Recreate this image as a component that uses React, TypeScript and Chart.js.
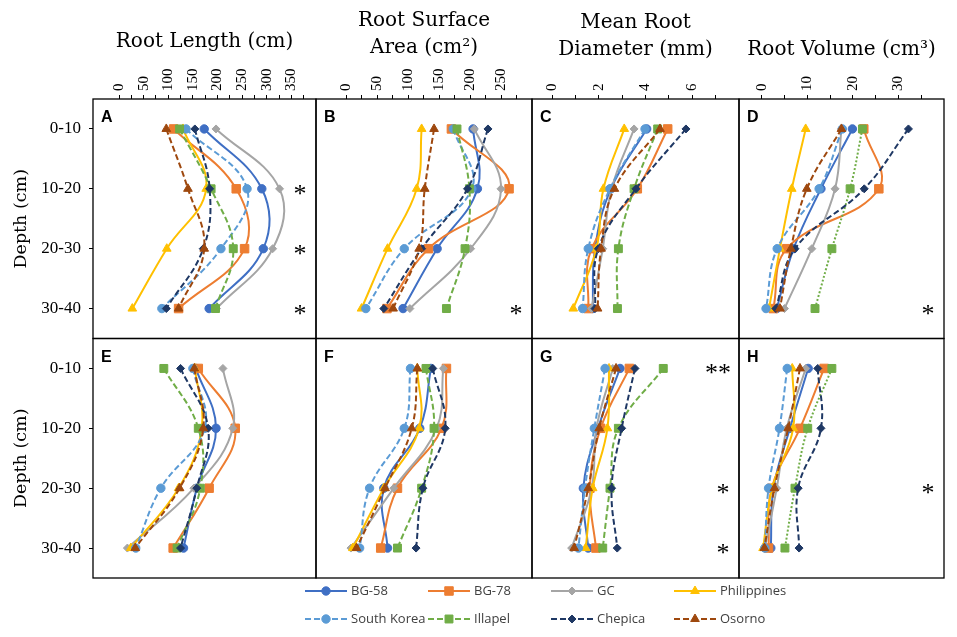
import React, { useEffect, useRef } from 'react';
import { Chart, registerables } from 'chart.js';
import { drawPoint } from 'chart.js/helpers';

Chart.register(...registerables);

// ---------- data ----------
const depthLabels = ['0-10', '10-20', '20-30', '30-40'];
const seriesNames = ['BG-58', 'BG-78', 'GC', 'Philippines', 'South Korea', 'Illapel', 'Chepica', 'Osorno'];
const panelLetters = ['A', 'B', 'C', 'D', 'E', 'F', 'G', 'H'];
const columnTitles: string[][] = [
  ['Root Length (cm)'],
  ['Root Surface', 'Area (cm²)'],
  ['Mean Root', 'Diameter (mm)'],
  ['Root Volume (cm³)'],
];
const yAxisTitle = 'Depth (cm)';

const lengthTickLabels = [0, 50, 100, 150, 200, 250, 300, 350];
const surfaceTickLabels = [0, 50, 100, 150, 200, 250];
const diameterTickLabels = [0, 2, 4, 6];
const volumeTickLabels = [0, 10, 20, 30];
const lengthTickMarks = [0, 25, 50, 75, 100, 125, 150, 175, 200, 225, 250, 275, 300, 325, 350, 375];
const surfaceTickMarks = [0, 25, 50, 75, 100, 125, 150, 175, 200, 225, 250, 275];
const diameterTickMarks = [0, 1, 2, 3, 4, 5, 6, 7];
const volumeTickMarks = [0, 5, 10, 15, 20, 25, 30, 35];

// series order: BG-58, BG-78, GC, Philippines, South Korea, Illapel, Chepica, Osorno
const panelA = [
  [173, 290, 293, 183],
  [111, 238, 255, 121],
  [197, 326, 312, 198],
  [130, 177, 97, 27],
  [136, 260, 207, 87],
  [123, 187, 232, 196],
  [154, 184, 171, 96],
  [96, 140, 173, 121],
];
const panelB = [
  [205, 212, 147, 92],
  [170, 263, 133, 66],
  [207, 250, 201, 103],
  [122, 114, 67, 25],
  [173, 203, 94, 32],
  [179, 199, 192, 162],
  [229, 196, 122, 61],
  [142, 127, 118, 76],
];
const panelC = [
  [4.05, 2.52, 1.84, 1.74],
  [4.95, 3.65, 1.69, 1.55],
  [3.51, 2.55, 2.17, 1.69],
  [3.09, 2.2, 1.9, 0.91],
  [3.98, 2.48, 1.55, 1.31],
  [4.52, 3.51, 2.84, 2.8],
  [5.73, 3.59, 1.98, 1.84],
  [4.62, 2.67, 2.1, 1.95],
];
const panelD = [
  [19.9, 13.0, 7.0, 3.3],
  [22.4, 25.7, 5.5, 2.55],
  [17.5, 16.1, 11.0, 5.0],
  [9.65, 6.6, 4.0, 1.6],
  [17.7, 12.6, 3.4, 0.95],
  [22.1, 19.4, 15.4, 11.7],
  [32.2, 22.5, 7.3, 3.1],
  [17.5, 9.9, 6.4, 4.0],
];
const panelE = [
  [156, 197, 158, 131],
  [161, 236, 183, 110],
  [211, 231, 152, 17],
  [154, 168, 121, 24],
  [150, 174, 85, 34],
  [91, 161, 165, 118],
  [125, 181, 158, 125],
  [153, 171, 123, 33],
];
const panelF = [
  [137, 119, 61, 67],
  [162, 154, 83, 56],
  [157, 146, 77, 8],
  [115, 118, 61, 11],
  [104, 94, 38, 22],
  [129, 142, 122, 83],
  [140, 160, 124, 113],
  [115, 106, 63, 17],
];
const panelG = [
  [2.91, 1.97, 1.34, 1.55],
  [3.31, 2.08, 1.62, 1.88],
  [2.6, 1.9, 1.7, 0.84],
  [2.44, 2.37, 1.74, 1.44],
  [2.27, 1.81, 1.41, 1.13],
  [4.76, 2.84, 2.48, 2.17],
  [3.55, 2.98, 2.55, 2.79],
  [2.74, 2.02, 1.55, 0.95],
];
const panelH = [
  [10.2, 6.2, 2.6, 2.0],
  [13.7, 8.4, 2.2, 1.5],
  [9.65, 5.5, 3.3, 0.7],
  [6.7, 6.9, 2.3, 0.3],
  [5.6, 3.9, 1.5, 0.7],
  [15.4, 10.1, 7.3, 5.1],
  [12.3, 13.0, 8.0, 8.2],
  [8.4, 5.8, 2.8, 0.6],
];

// significance marks: [panel index, depth index, text]
const significance: [number, number, string][] = [
  [0, 1, '*'], [0, 2, '*'], [0, 3, '*'],
  [1, 3, '*'],
  [3, 3, '*'],
  [6, 0, '**'], [6, 2, '*'], [6, 3, '*'],
  [7, 2, '*'],
];

// ---------- styles ----------
const seriesColors = ['#3F6FC4', '#ED7D31', '#A5A5A5', '#FFC000', '#5B9BD5', '#70AD47', '#1F3864', '#9E480E'];
const seriesMarkers = ['circle', 'rect', 'rectRot', 'triangle', 'circle', 'rect', 'rectRot', 'triangle'];
const seriesRadius = [4.2, 6, 4, 5, 4.2, 5.6, 4, 5];
const seriesDashed = [false, false, false, false, true, true, true, true];

const panels = [panelA, panelB, panelC, panelD, panelE, panelF, panelG, panelH];
const xIds = ['xA', 'xB', 'xC', 'xD'];
const yIds = ['yTop', 'yBottom'];
const tickLabelSets = [lengthTickLabels, surfaceTickLabels, diameterTickLabels, volumeTickLabels];
const tickMarkSets = [lengthTickMarks, surfaceTickMarks, diameterTickMarks, volumeTickMarks];
const axisMin = [-52.8, -48.4, -0.856, -4.98];
const axisMax = [400, 300, 8, 40];
const colWeights = [223, 216, 207, 205];
const titlePads = [28, 7, 9, 36.5];

const serif = 'Liberation Serif';
const titleSerif = 'DejaVu Serif';

function buildDatasets() {
  const out: any[] = [];
  panels.forEach((pd, p) => {
    const col = p % 4;
    const row = Math.floor(p / 4);
    seriesNames.forEach((name, s) => {
      const c = seriesColors[s];
      let dash: number[] = seriesDashed[s] ? [6, 3] : [];
      if (s === 5 && col === 3) dash = [2, 2];
      out.push({
        label: name,
        data: pd[s],
        xAxisID: xIds[col],
        yAxisID: yIds[row],
        borderColor: c,
        backgroundColor: c,
        pointBackgroundColor: c,
        pointBorderColor: c,
        pointStyle: seriesMarkers[s],
        pointRadius: seriesRadius[s],
        pointBorderWidth: 1,
        borderWidth: 2,
        borderDash: dash,
        tension: 0.4,
        fill: false,
        order: 7 - s,
        _legendDash: seriesDashed[s] ? [6, 3] : [],
      });
    });
  });
  return out;
}

function buildScales() {
  const scales: any = {};
  xIds.forEach((id, i) => {
    scales[id] = {
      type: 'linear',
      position: 'top',
      stack: 'cols',
      stackWeight: colWeights[i],
      weight: 4 - i,
      min: axisMin[i],
      max: axisMax[i],
      afterBuildTicks: (s: any) => {
        s.ticks = tickMarkSets[i].map((v) => ({ value: v }));
      },
      afterFit: (s: any) => {
        s.height = 99;
      },
      ticks: {
        autoSkip: false,
        minRotation: 90,
        maxRotation: 90,
        padding: 4,
        labelOffset: 18,
        color: '#000',
        font: { family: serif, size: 15 },
        callback: (v: any) => (tickLabelSets[i].includes(Number(v)) ? String(v) : ''),
      },
      grid: { drawOnChartArea: false, drawTicks: true, tickLength: 4, color: '#000', lineWidth: 1 },
      border: { display: false },
      title: {
        display: true,
        text: columnTitles[i],
        color: '#000',
        font: { family: titleSerif, size: 20, lineHeight: 1.36 },
        padding: { top: titlePads[i], bottom: 0 },
      },
    };
  });
  yIds.forEach((id, r) => {
    scales[id] = {
      type: 'category',
      position: 'left',
      stack: 'rows',
      stackWeight: 1,
      weight: 2 - r,
      offset: true,
      afterFit: (s: any) => {
        s.width = 93;
      },
      ticks: { autoSkip: false, color: '#000', padding: 8, font: { family: serif, size: 17 } },
      grid: { offset: false, drawOnChartArea: false, drawTicks: true, tickLength: 4, color: '#000' },
      border: { display: false },
      title: {
        display: true,
        text: yAxisTitle,
        color: '#000',
        font: { family: titleSerif, size: 17.5, lineHeight: 1.2 },
        padding: { top: 11, bottom: 0 },
      },
    };
  });
  return scales;
}

const decorPlugin = {
  id: 'decor',
  afterDatasetsDraw(chart: any) {
    const ctx: CanvasRenderingContext2D = chart.ctx;
    ctx.save();
    // panel frames and letters
    for (let p = 0; p < 8; p++) {
      const xs = chart.scales[xIds[p % 4]];
      const ys = chart.scales[yIds[Math.floor(p / 4)]];
      ctx.setLineDash([]);
      ctx.strokeStyle = '#000';
      ctx.lineWidth = 1.3;
      ctx.strokeRect(xs.left, ys.top, xs.right - xs.left, ys.bottom - ys.top);
      ctx.fillStyle = '#000';
      ctx.font = 'bold 16px "Liberation Sans"';
      ctx.textAlign = 'left';
      ctx.textBaseline = 'alphabetic';
      ctx.fillText(panelLetters[p], xs.left + 8, ys.top + 23);
    }
    // significance asterisks
    ctx.font = '26px "Liberation Serif"';
    ctx.textAlign = 'center';
    ctx.textBaseline = 'alphabetic';
    ctx.fillStyle = '#000';
    significance.forEach(([p, d, txt]) => {
      const xs = chart.scales[xIds[p % 4]];
      const ys = chart.scales[yIds[Math.floor(p / 4)]];
      const x = xs.right - (txt.length > 1 ? 21 : 16);
      const y = ys.getPixelForValue(d) + 13;
      ctx.fillText(txt, x, y);
    });
    // legend
    const colX = [305, 428, 551, 674];
    const rowY = [591, 619];
    const ds = chart.data.datasets;
    seriesNames.forEach((name, s) => {
      const d = ds[s];
      const x0 = colX[s % 4];
      const y0 = rowY[Math.floor(s / 4)];
      ctx.setLineDash(d._legendDash);
      ctx.strokeStyle = d.borderColor;
      ctx.lineWidth = 2;
      ctx.beginPath();
      ctx.moveTo(x0, y0);
      ctx.lineTo(x0 + 42, y0);
      ctx.stroke();
      ctx.setLineDash([]);
      ctx.fillStyle = d.borderColor;
      ctx.strokeStyle = d.borderColor;
      ctx.lineWidth = 1;
      drawPoint(ctx, { pointStyle: d.pointStyle, radius: d.pointRadius, rotation: 0, borderWidth: 1 } as any, x0 + 21, y0);
      ctx.fillStyle = '#404040';
      ctx.font = '13px "Open Sans"';
      ctx.textAlign = 'left';
      ctx.textBaseline = 'middle';
      ctx.fillText(name, x0 + 46, y0);
    });
    ctx.restore();
  },
};

export default function App() {
  const ref = useRef<HTMLCanvasElement | null>(null);
  useEffect(() => {
    const canvas = ref.current;
    if (!canvas) return;
    const chart = new Chart(canvas, {
      type: 'line',
      data: { labels: depthLabels, datasets: buildDatasets() },
      options: {
        indexAxis: 'y',
        animation: false,
        responsive: false,
        maintainAspectRatio: false,
        layout: { padding: { left: 0, right: 13, top: 0, bottom: 59 } },
        plugins: { legend: { display: false }, tooltip: { enabled: false } },
        scales: buildScales(),
      } as any,
      plugins: [decorPlugin as any],
    });
    return () => chart.destroy();
  }, []);
  return (
    <div style={{ position: 'fixed', left: 0, top: 0, width: 957, height: 637, background: '#fff' }}>
      <canvas ref={ref} width={957} height={637} style={{ width: 957, height: 637, display: 'block' }} />
    </div>
  );
}
